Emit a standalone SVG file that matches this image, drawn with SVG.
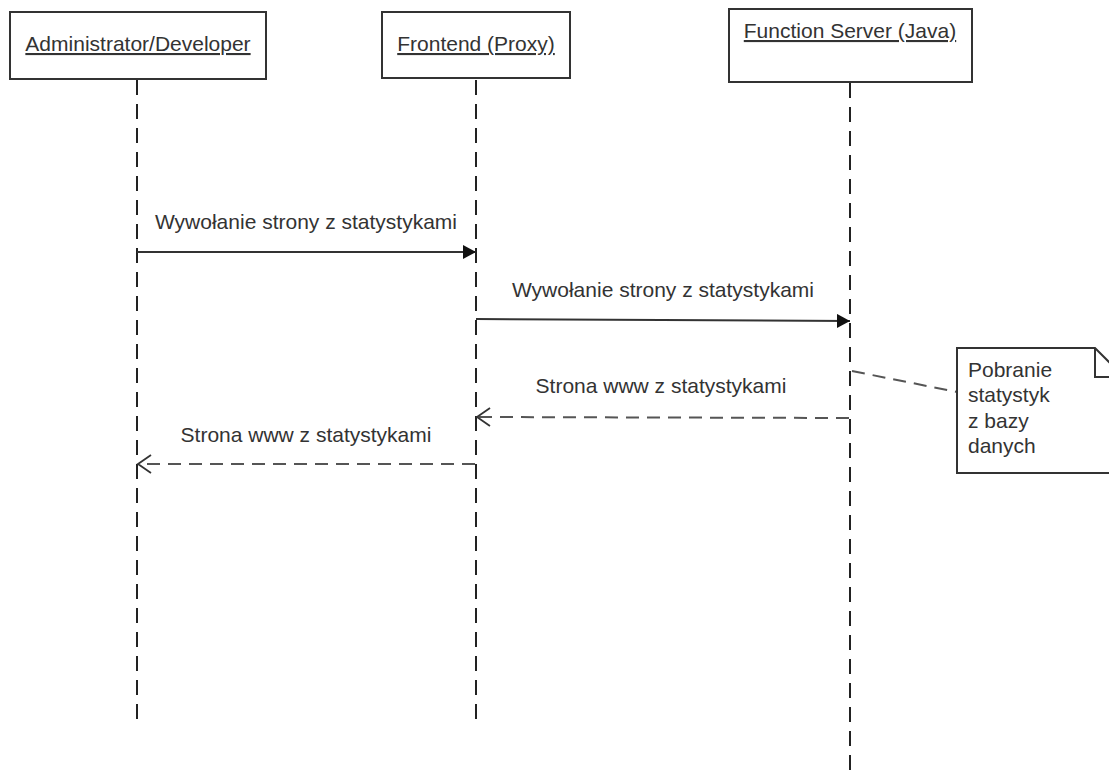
<svg xmlns="http://www.w3.org/2000/svg" width="1109" height="772" viewBox="0 0 1109 772">
  <style>
    .box { fill: #ffffff; stroke: #333333; stroke-width: 2; }
    .head { font-family: "Liberation Sans", Arial, sans-serif; font-size: 21px; fill: #333333; text-decoration: underline; }
    .lbl { font-family: "Liberation Sans", Arial, sans-serif; font-size: 21px; fill: #333333; }
    .life { stroke: #222222; stroke-width: 2; stroke-dasharray: 15 9; fill: none; }
    .call { stroke: #333333; stroke-width: 2; fill: none; }
    .ret { stroke: #555555; stroke-width: 2; stroke-dasharray: 13 8; fill: none; }
    .note { fill: #ffffff; stroke: #333333; stroke-width: 2; }
  </style>
  <defs>
    <marker id="filled" markerWidth="16" markerHeight="16" refX="13" refY="7" orient="auto" markerUnits="userSpaceOnUse">
      <path d="M0,0 L13,7 L0,14 Z" fill="#111111"/>
    </marker>
    <marker id="open" markerWidth="18" markerHeight="24" refX="14" refY="10" orient="auto" markerUnits="userSpaceOnUse">
      <path d="M1,1 L14,10 L1,19" fill="none" stroke="#333333" stroke-width="1.8"/>
    </marker>
  </defs>

  <rect width="1109" height="772" fill="#ffffff"/>

  <g id="connectors">
    <!-- lifelines -->
    <line class="life" x1="137" y1="80" x2="137" y2="722"/>
    <line class="life" x1="476" y1="80" x2="476" y2="722"/>
    <line class="life" x1="850" y1="83" x2="850" y2="772"/>
    <!-- calls -->
    <line class="call" x1="137" y1="252" x2="476" y2="252" marker-end="url(#filled)"/>
    <text class="lbl" x="306" y="229" text-anchor="middle">Wywołanie strony z statystykami</text>
    <line class="call" x1="476" y1="319" x2="850" y2="321" marker-end="url(#filled)"/>
    <text class="lbl" x="663" y="297" text-anchor="middle">Wywołanie strony z statystykami</text>
    <!-- returns -->
    <line class="ret" x1="849" y1="418" x2="477" y2="417" marker-end="url(#open)"/>
    <text class="lbl" x="661" y="393" text-anchor="middle">Strona www z statystykami</text>
    <line class="ret" x1="475" y1="464" x2="138" y2="464" marker-end="url(#open)"/>
    <text class="lbl" x="306" y="442" text-anchor="middle">Strona www z statystykami</text>
    <!-- note anchor -->
    <line class="ret" x1="852" y1="371" x2="957" y2="392"/>
  </g>

  <g id="admin">
    <rect class="box" x="10" y="12" width="256" height="67"/>
    <text class="head" x="138" y="51" text-anchor="middle">Administrator/Developer</text>
  </g>

  <g id="frontend">
    <rect class="box" x="382" y="12" width="188" height="66"/>
    <text class="head" x="476" y="51" text-anchor="middle">Frontend (Proxy)</text>
  </g>

  <g id="function-server">
    <rect class="box" x="729" y="9" width="243" height="73"/>
    <text class="head" x="850" y="38" text-anchor="middle">Function Server (Java)</text>
  </g>

  <g id="note">
    <path class="note" d="M957,348 L1095,348 L1124,377 L1124,473 L957,473 Z"/>
    <path d="M1095,348 L1095,377 L1124,377" fill="none" stroke="#333333" stroke-width="2"/>
    <text class="lbl" x="968" y="377">Pobranie</text>
    <text class="lbl" x="968" y="402">statystyk</text>
    <text class="lbl" x="968" y="428">z bazy</text>
    <text class="lbl" x="968" y="453">danych</text>
  </g>
</svg>
